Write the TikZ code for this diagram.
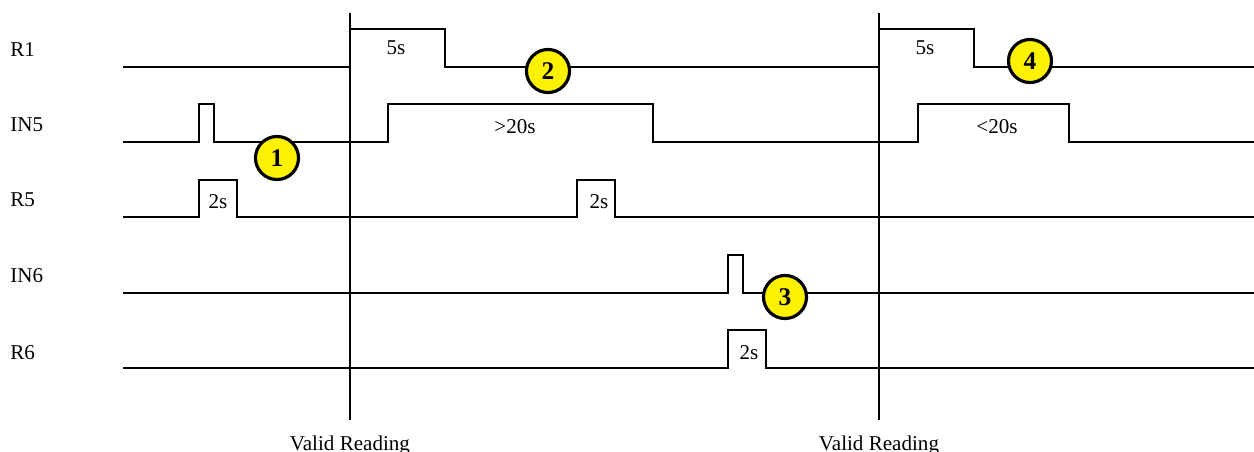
\documentclass[tikz,border=0pt]{standalone}
\usepackage{fontspec}
\setmainfont{Liberation Serif}
\begin{document}
\begin{tikzpicture}[x=0.02cm,y=-0.02cm,
  sig/.style={line width=1.2pt,line join=miter},
  marker/.style={line width=1.2pt},
  lbl/.style={inner sep=0pt,anchor=base west,font=\fontsize{12}{14}\selectfont},
  dur/.style={inner sep=0pt,font=\fontsize{12}{14}\selectfont},
  badge/.style={circle,draw=black,fill=yellow,line width=1.8pt,minimum size=24.5pt,inner sep=0pt,font=\fontsize{14.5}{16}\selectfont\bfseries}]
\useasboundingbox (0,0) rectangle (1254,452);
% signal labels
\node[lbl] (lR1) at (10,57) {R1};
\node[lbl] (lIN5) at (10,132) {IN5};
\node[lbl] (lR5) at (10,207) {R5};
\node[lbl] (lIN6) at (10,283) {IN6};
\node[lbl] (lR6) at (10,359) {R6};
% marker lines
\draw[marker] (350,13) -- (350,420);
\draw[marker] (879,13) -- (879,420);
% waveforms
\draw[sig] (123,67) -- (350,67) -- (350,29) -- (445,29) -- (445,67) -- (879,67) -- (879,29) -- (974,29) -- (974,67) -- (1254,67);
\draw[sig] (123,142) -- (199,142) -- (199,104) -- (214,104) -- (214,142) -- (388,142) -- (388,104) -- (653,104) -- (653,142) -- (918,142) -- (918,104) -- (1069,104) -- (1069,142) -- (1254,142);
\draw[sig] (123,217) -- (199,217) -- (199,180) -- (237,180) -- (237,217) -- (577,217) -- (577,180) -- (615,180) -- (615,217) -- (1254,217);
\draw[sig] (123,293) -- (728,293) -- (728,255) -- (743,255) -- (743,293) -- (1254,293);
\draw[sig] (123,368) -- (728,368) -- (728,330) -- (766,330) -- (766,368) -- (1254,368);
% durations
\node[dur] (d1) at (396,48) {5s};
\node[dur] (d2) at (925,48) {5s};
\node[dur] (d3) at (515,127) {>20s};
\node[dur] (d4) at (997,127) {<20s};
\node[dur] (d5) at (218,202) {2s};
\node[dur] (d6) at (599,202) {2s};
\node[dur] (d7) at (749,353) {2s};
% badges
\node[badge] (b1) at (277,158) {1};
\node[badge] (b2) at (548,71) {2};
\node[badge] (b3) at (785,297) {3};
\node[badge] (b4) at (1030,61) {4};
% bottom labels
\node[dur,anchor=base] (v1) at (350,450) {Valid Reading};
\node[dur,anchor=base] (v2) at (879,450) {Valid Reading};
\end{tikzpicture}
\end{document}
